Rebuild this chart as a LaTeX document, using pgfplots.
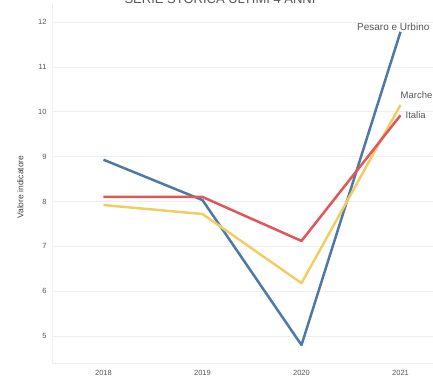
\documentclass[border=0pt]{standalone}
\usepackage{pgfplots}
\pgfplotsset{compat=1.18}
\usepackage{fontspec}
\setmainfont{Liberation Sans}
\definecolor{tblue}{HTML}{4E79A7}
\definecolor{tyellow}{HTML}{F1CE63}
\definecolor{tred}{HTML}{E15759}
\definecolor{txt}{HTML}{555555}
\definecolor{gridc}{HTML}{EEEEEE}
\begin{document}
\begin{tikzpicture}[x=1pt,y=1pt]
\path[use as bounding box, clip] (0,0) rectangle (433,377);
\node[anchor=base, font=\fontsize{13}{13}\selectfont, text=txt] at (220,373) {SERIE STORICA ULTIMI 4 ANNI};
\begin{axis}[
  at={(52pt,14pt)}, anchor=south west,
  scale only axis, width=398pt, height=359pt,
  xmin=2017.48, xmax=2021.5, ymin=4.4, ymax=12.4,
  xtick={2018,2019,2020,2021},
  xticklabels={2018,2019,2020,2021},
  ytick={5,6,7,8,9,10,11,12},
  axis line style={gridc},
  axis x line*=bottom, axis y line*=left,
  ymajorgrids, grid style={gridc, line width=0.6pt},
  major tick length=0pt,
  tick label style={font=\fontsize{7.5}{7.5}\selectfont, text=txt},
  /pgf/number format/assume math mode=true,
  xticklabel style={yshift=-4pt},
  yticklabel style={xshift=-2pt},
  ylabel={Valore indicatore},
  ylabel style={font=\fontsize{8.5}{8.5}\selectfont, text=black!75, at={(axis description cs:-0.063,0.49)}},
  clip=false,
  every axis plot/.append style={line width=2.5pt, line join=round},
]
\addplot[tblue, mark=none] coordinates {(2018,8.93) (2019,8.03) (2020,4.8) (2021,11.78)};
\addplot[tyellow, mark=none] coordinates {(2018,7.92) (2019,7.72) (2020,6.18) (2021,10.15)};
\addplot[tred, mark=none] coordinates {(2018,8.1) (2019,8.1) (2020,7.12) (2021,9.92)};
\node[anchor=west, font=\fontsize{10}{10}\selectfont, text=txt, inner sep=0pt] at (axis cs:2020.56,11.88) {Pesaro e Urbino};
\node[anchor=west, font=\fontsize{9.5}{9.5}\selectfont, text=txt, inner sep=0pt] at (axis cs:2021.0,10.38) {Marche};
\node[anchor=west, font=\fontsize{9.5}{9.5}\selectfont, text=txt, inner sep=0pt] at (axis cs:2021.05,9.92) {Italia};
\end{axis}
\end{tikzpicture}
\end{document}
